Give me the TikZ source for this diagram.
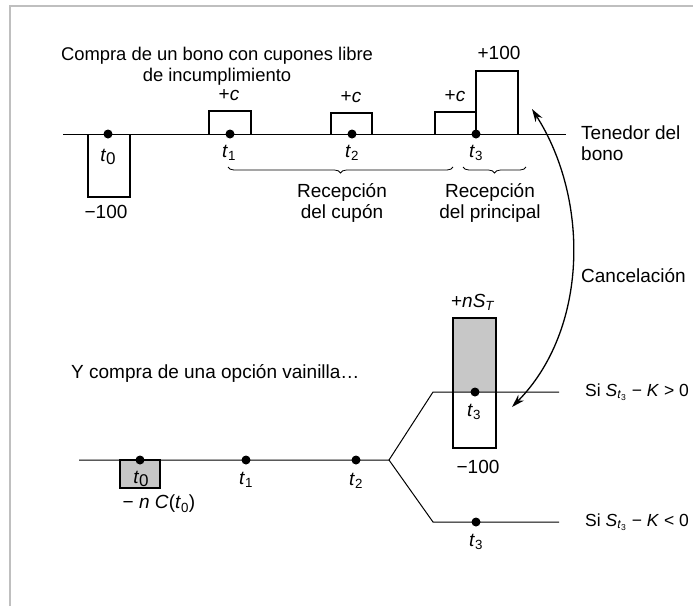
\documentclass[tikz,border=0pt]{standalone}
\usepackage{fontspec}
\setmainfont{Liberation Sans}
\usetikzlibrary{arrows.meta,decorations.pathreplacing}
\definecolor{framegray}{gray}{0.75}
\definecolor{boxgray}{gray}{0.78}
\newcommand{\tsub}[1]{\textit{t}\textsubscript{#1}}
\newcommand{\tzero}{\textit{t}\raisebox{-2.5pt}{\fontsize{17}{17}\selectfont 0}}
\begin{document}
\begin{tikzpicture}[x=1pt,y=-1pt,
  txt/.style={inner sep=0pt, font=\fontsize{19}{21}\selectfont},
  titletxt/.style={inner sep=0pt, font=\fontsize{18.4}{21.5}\selectfont},
  smalltxt/.style={inner sep=0pt, font=\fontsize{17.5}{20}\selectfont},
  axis/.style={line width=1pt},
  cash/.style={line width=2pt},
  bracestyle/.style={line width=0.8pt, decorate, decoration={brace, amplitude=6pt, mirror}},
  dot/.style={circle, fill, inner sep=0pt, minimum size=9pt},
  cancel/.style={line width=1.3pt, {Stealth[length=13pt,width=8pt]}-{Stealth[length=13pt,width=8pt]}},
  ]
\useasboundingbox (0,0) rectangle (693,606);
\draw[framegray, line width=2pt] (9.5,606) -- (9.5,5.5) -- (693,5.5);

% ---------- top: bond ----------
\node[titletxt, align=center] (title) at (217,66) {Compra de un bono con cupones libre\\de incumplimiento};

\coordinate (A0) at (63,134);
\coordinate (A1) at (566,134);
\draw[axis] (A0) -- (A1);

% cash-flow boxes
\draw[cash] (88,134) -- (88,197) -- (130,197) -- (130,134);
\draw[cash] (209,134) -- (209,111) -- (251,111) -- (251,134);
\draw[cash] (331,134) -- (331,113) -- (372,113) -- (372,134);
\draw[cash] (435,134) -- (435,112) -- (476,112);
\draw[cash] (476,134) -- (476,71) -- (518,71) -- (518,134);

\node[dot] (d0) at (108,134) {};
\node[dot] (d1) at (230,134) {};
\node[dot] (d2) at (352,134) {};
\node[dot] (d3) at (476,134) {};

\node[txt] (lt0) at (108,157) {\tzero};
\node[txt] (lt1) at (229,153) {\tsub{1}};
\node[txt] (lt2) at (352,153) {\tsub{2}};
\node[txt] (lt3) at (476,153) {\tsub{3}};

\node[txt] (m100) at (106,212) {−100};
\node[txt] (c1) at (229,95) {+\textit{c}};
\node[txt] (c2) at (351,97) {+\textit{c}};
\node[txt] (c3) at (455,96) {+\textit{c}};
\node[txt] (p100) at (499,53) {+100};

\node[txt, anchor=west, align=left] (holder) at (581,143) {Tenedor del\\bono};

\draw[bracestyle] (228,167) -- (453,167);
\draw[bracestyle] (463,167) -- (526,167);
\node[txt, align=center] (rc) at (342,203) {Recepción\\del cupón};
\node[txt, align=center] (rp) at (490,203) {Recepción\\del principal};

% ---------- cancellation arrow ----------
\coordinate (cA) at (532,109);
\coordinate (cB) at (512,407);
\draw[cancel] (cA) .. controls (590,200) and (588,330) .. (cB);
\node[txt, anchor=west] (canc) at (581,276) {Cancelación};

% ---------- bottom: option ----------
\node[txt, anchor=west] (opt) at (71,373) {Y compra de una opción vainilla…};

\coordinate (B0) at (79,460);
\coordinate (Bs) at (389,460);
\coordinate (Bu0) at (433,392);
\coordinate (Bu1) at (559,392);
\coordinate (Bl0) at (433,522);
\coordinate (Bl1) at (559,522);

\filldraw[cash, fill=boxgray] (120,460) rectangle (160,488);
\fill[boxgray] (453,318) rectangle (496,392);
\draw[cash] (453,318) rectangle (496,448);

\draw[axis] (B0) -- (Bs) -- (Bu0) -- (Bu1);
\draw[axis] (Bs) -- (Bl0) -- (Bl1);

\node[dot] (e0) at (140,460) {};
\node[dot] (e1) at (246,460) {};
\node[dot] (e2) at (356,460) {};
\node[dot] (e3u) at (475,392) {};
\node[dot] (e3l) at (476,522) {};

\node[txt] (bt0) at (141,479) {\tzero};
\node[txt] (bt1) at (246,480) {\tsub{1}};
\node[txt] (bt2) at (356,481) {\tsub{2}};
\node[txt] (bt3u) at (474,412) {\tsub{3}};
\node[txt] (bt3l) at (476,542) {\tsub{3}};

\node[txt] (nc) at (159,504) {− \textit{n C}(\textit{t}\textsubscript{0})};
\node[txt] (nst) at (473,302) {+\textit{nS}\textsubscript{\textit{T}}};
\node[txt] (m100b) at (478,467) {−100};

\node[smalltxt, anchor=west] (up) at (585,392) {Si \textit{S}\textsubscript{\textit{t}\textsubscript{3}} − \textit{K} > 0};
\node[smalltxt, anchor=west] (down) at (585,522) {Si \textit{S}\textsubscript{\textit{t}\textsubscript{3}} − \textit{K} < 0};
\end{tikzpicture}
\end{document}
